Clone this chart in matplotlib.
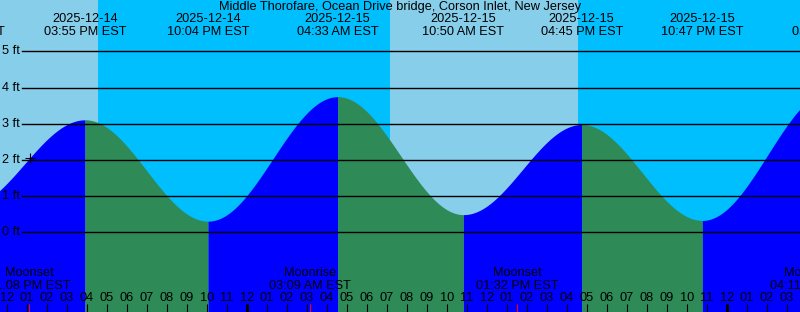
import matplotlib
matplotlib.use('Agg')
import matplotlib.pyplot as plt
import numpy as np
import pandas as pd

plt.rcParams['font.family'] = ['Liberation Sans', 'DejaVu Sans']
plt.rcParams['font.size'] = 9.2

title = 'Middle Thorofare, Ocean Drive bridge, Corson Inlet, New Jersey'

# tide extremes (EST) and heights in ft
tide_times = ['2025-12-14 09:53', '2025-12-14 15:55', '2025-12-14 22:04', '2025-12-15 04:33',
              '2025-12-15 10:50', '2025-12-15 16:45', '2025-12-15 22:47', '2025-12-16 05:19']
tide_heights = [0.68, 3.11, 0.31, 3.75, 0.49, 2.98, 0.33, 3.95]

# sunset, sunrise, sunset
sun_times = ['2025-12-14 16:34', '2025-12-15 07:10', '2025-12-15 16:34']

moon_times = ['2025-12-14 13:08', '2025-12-15 03:09', '2025-12-15 13:32', '2025-12-16 04:11']
moon_events = ['Moonset', 'Moonrise', 'Moonset', 'Moonrise']

ft_levels = [0, 1, 2, 3, 4, 5]

now_time = '2025-12-14 13:10'
now_height = 2.05

base = pd.Timestamp('2025-12-14 12:00')


def hours(s):
    return (pd.Timestamp(s) - base) / pd.Timedelta(hours=1)


x0, x1 = -0.335, 39.665
W, H = 800, 312

fig = plt.figure(figsize=(8, 3.12), dpi=100)
ax = fig.add_axes([0, 0, 1, 1])
ax.set_xlim(x0, x1)
ax.set_ylim(-2.20, 6.42)
ax.set_axis_off()

# day / night background
day_col, night_col = '#87ceeb', '#00bfff'
edges = [x0] + [hours(s) for s in sun_times] + [x1]
is_day = True
for a, b in zip(edges[:-1], edges[1:]):
    ax.axvspan(a, b, color=day_col if is_day else night_col, lw=0, zorder=0)
    is_day = not is_day

# tide curve between extremes, rising blue / falling green
th = [hours(s) for s in tide_times]
for i in range(len(th) - 1):
    t = np.linspace(th[i], th[i + 1], 200)
    h1, h2 = tide_heights[i], tide_heights[i + 1]
    f = (1 - np.cos(np.pi * (t - th[i]) / (th[i + 1] - th[i]))) / 2
    y = h1 + (h2 - h1) * f
    col = '#0000ff' if h2 > h1 else '#2e8b57'
    ax.fill_between(t, -3, y, color=col, lw=0, zorder=1)

# ft lines and labels
for v in ft_levels:
    ax.axhline(v, xmin=22 / W, color='black', lw=1.0, zorder=2)
    ax.text(2 / W, v, f'{v} ft', transform=ax.get_yaxis_transform(),
            ha='left', va='center', zorder=3)

xt = ax.get_xaxis_transform()

ax.text(0.5, 1 - 7 / H, title, transform=ax.transAxes, ha='center', va='center')

# high / low labels at top
for s in tide_times:
    ts = pd.Timestamp(s)
    x = hours(s)
    ax.text(x, 1 - 19 / H, ts.strftime('%Y-%m-%d'), transform=xt, ha='center', va='center')
    ax.text(x, 1 - 32 / H, ts.strftime('%I:%M %p EST'), transform=xt, ha='center', va='center')

# moon labels and red ticks
for s, name in zip(moon_times, moon_events):
    ts = pd.Timestamp(s)
    x = hours(s)
    ax.text(x, 1 - 273 / H, name, transform=xt, ha='center', va='center')
    ax.text(x, 1 - 286 / H, ts.strftime('%I:%M %p EST'), transform=xt, ha='center', va='center')
    ax.vlines(x, 0, 8 / H, transform=xt, color='red', lw=0.8, zorder=4)

# hour ticks along the bottom
for hr in range(0, 40):
    clock = (12 + hr) % 12
    lab = '%02d' % (12 if clock == 0 else clock)
    ax.text(hr, 1 - 298 / H, lab, transform=xt, ha='center', va='center')
    midnight = (12 + hr) % 24 == 0
    ax.vlines(hr, 0, 8 / H, transform=xt, color='black', lw=2.2 if midnight else 0.8, zorder=3)

ax.plot(hours(now_time), now_height, marker='+', color='black', ms=7, mew=0.8, zorder=5)

fig.savefig('out.png', dpi=100)
